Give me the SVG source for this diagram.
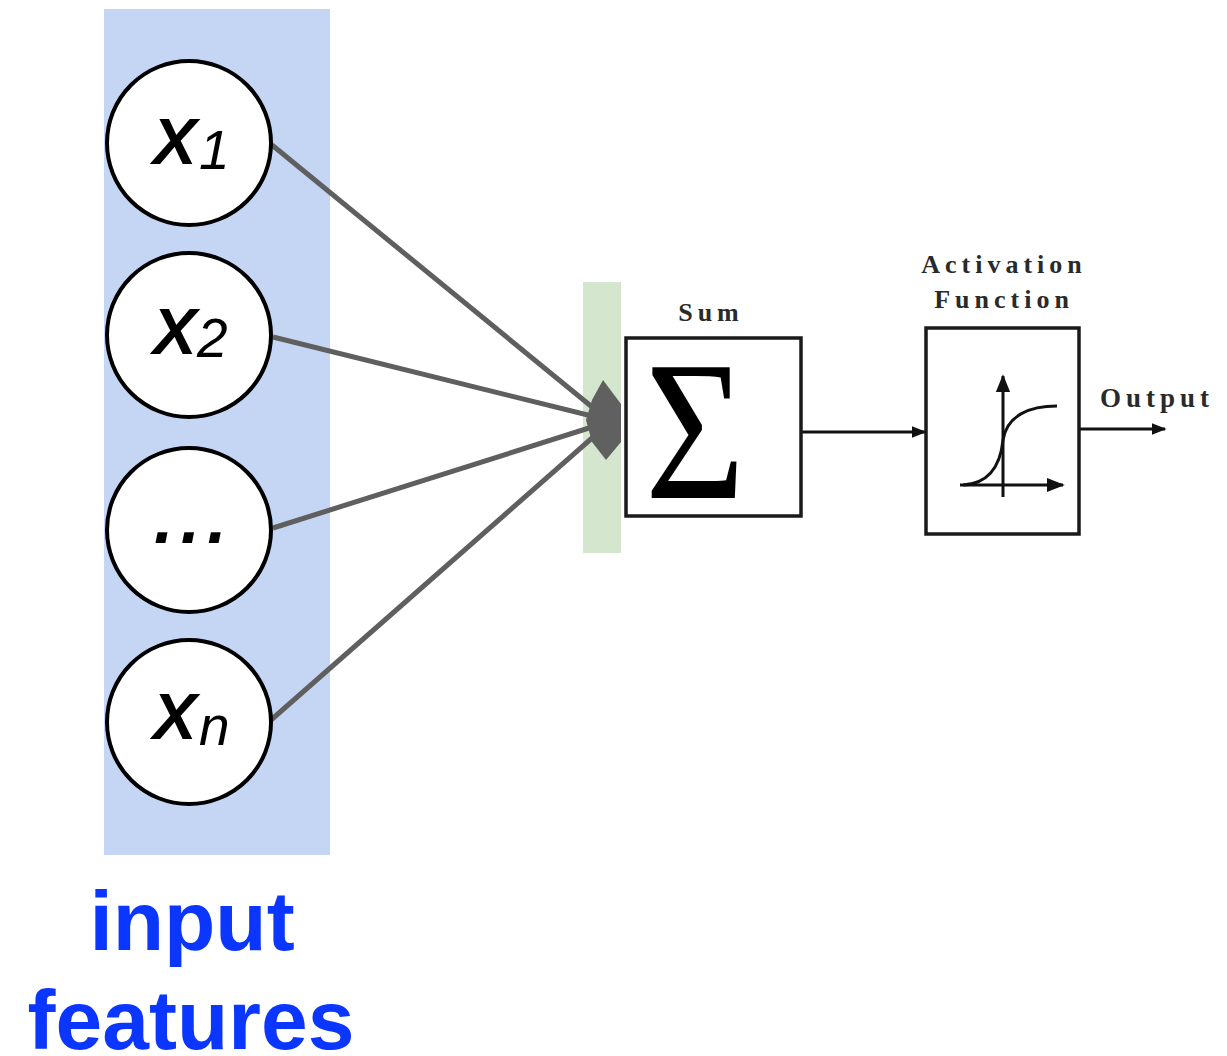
<svg xmlns="http://www.w3.org/2000/svg" width="1227" height="1056" viewBox="0 0 1227 1056">
<defs>
<style>
.node circle{fill:#fff;stroke:#000;stroke-width:4}
.var{font-family:"Liberation Sans",Arial,sans-serif;font-style:italic;fill:#000}
.big{stroke:#000;stroke-width:1.8}
.lbl{font-family:"Liberation Serif","Times New Roman",serif;font-weight:bold;fill:#2a2a2a;letter-spacing:5px}
.box{fill:#fff;stroke:#1a1a1a;stroke-width:3.5}
.edge{stroke:#5f5f5f;stroke-width:5;fill:none}
.arr{stroke:#111;stroke-width:3;fill:none}
</style>
<marker id="ah" viewBox="0 0 10 10" refX="9" refY="5" markerWidth="5" markerHeight="5" markerUnits="strokeWidth" orient="auto">
<path d="M0,1 L10,5 L0,9 Z" fill="#111"/>
</marker>
<marker id="ah2" viewBox="0 0 10 10" refX="9" refY="5" markerWidth="6" markerHeight="6" markerUnits="strokeWidth" orient="auto">
<path d="M0,1 L10,5 L0,9 Z" fill="#111"/>
</marker>
</defs>
<rect width="1227" height="1056" fill="#fff"/>
<rect id="input-band" x="104" y="9" width="226" height="846" fill="#c5d6f5"/>
<rect id="bias-bar" x="583" y="282" width="38" height="271" fill="#d5e6cf"/>
<g id="connectors">
<line class="edge" x1="272" y1="145" x2="608" y2="420"/>
<line class="edge" x1="273" y1="337" x2="608" y2="420"/>
<line class="edge" x1="273" y1="528" x2="608" y2="422"/>
<line class="edge" x1="271" y1="720" x2="608" y2="424"/>
<polygon points="603,380 621,404 621,442 606,460 592,442 586,420 592,400" fill="#606060"/>
<line class="arr" x1="802" y1="432" x2="925" y2="432" marker-end="url(#ah)"/>
<line class="arr" x1="1080" y1="429" x2="1165" y2="429" marker-end="url(#ah)"/>
</g>
<g id="x1" class="node">
<circle cx="189" cy="143" r="82"/>
<text class="var big" x="155" y="163" font-size="82">x</text>
<text class="var" x="199" y="169" font-size="55">1</text>
</g>
<g id="x2" class="node">
<circle cx="189" cy="335" r="82"/>
<text class="var big" x="155" y="353" font-size="82">x</text>
<text class="var" x="197" y="357" font-size="55">2</text>
</g>
<g id="xdots" class="node">
<circle cx="189" cy="530" r="82"/>
<text class="var big" x="191" y="542" font-size="84" text-anchor="middle">…</text>
</g>
<g id="xn" class="node">
<circle cx="189" cy="722" r="82"/>
<text class="var big" x="155" y="738" font-size="82">x</text>
<text class="var" x="199" y="745" font-size="55">n</text>
</g>
<g id="sum">
<rect class="box" x="626" y="338" width="175" height="178"/>
<text transform="translate(695,498) scale(0.86,1)" x="0" y="0" font-family="Liberation Serif,'Times New Roman',serif" font-size="200" text-anchor="middle" fill="#000">Σ</text>
<text class="lbl" x="711" y="321" font-size="26" text-anchor="middle" letter-spacing="6">Sum</text>
</g>
<g id="activation">
<rect class="box" x="926" y="328" width="153" height="206"/>
<text class="lbl" x="1004" y="273" font-size="26" text-anchor="middle">Activation</text>
<text class="lbl" x="1004" y="308" font-size="26" text-anchor="middle">Function</text>
<line stroke="#111" stroke-width="3" x1="1003" y1="497" x2="1003" y2="376" marker-end="url(#ah2)"/>
<line stroke="#111" stroke-width="3" x1="960" y1="485" x2="1063" y2="485" marker-end="url(#ah2)"/>
<path d="M963,485 C985,484 1000,470 1003,440 C1007,415 1030,406 1057,406" stroke="#111" stroke-width="3" fill="none"/>
</g>
<text id="output-label" class="lbl" x="1100" y="407" font-size="27" letter-spacing="6.5">Output</text>
<g id="caption" font-family="'Liberation Sans',Arial,sans-serif" font-weight="bold" font-size="84" fill="#0a36ff" text-anchor="middle">
<text x="192" y="950">input</text>
<text x="191" y="1049">features</text>
</g>
</svg>
